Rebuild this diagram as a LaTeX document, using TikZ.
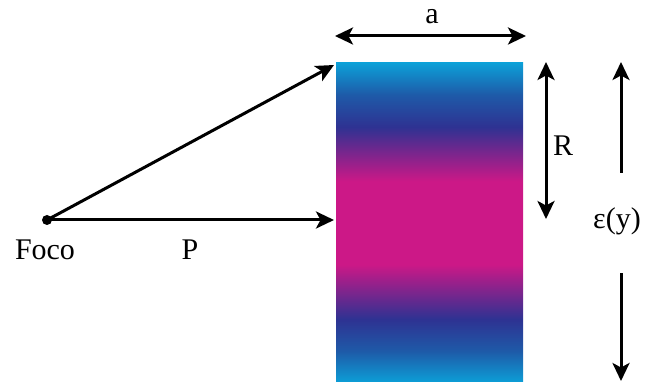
\documentclass[tikz,border=0pt]{standalone}
\usepackage{fontspec}
\setmainfont{Liberation Serif}
\usetikzlibrary{arrows.meta}
\definecolor{cyanC}{RGB}{12,160,216}
\definecolor{midB}{RGB}{30,90,168}
\definecolor{darkB}{RGB}{46,50,146}
\definecolor{magC}{RGB}{204,24,135}
\pgfdeclareverticalshading{lens}{100bp}{color(0bp)=(cyanC); color(25bp)=(cyanC); color(30bp)=(midB); color(35bp)=(darkB); color(43.5bp)=(magC); color(56.5bp)=(magC); color(65bp)=(darkB); color(70bp)=(midB); color(75bp)=(cyanC); color(100bp)=(cyanC)}
\tikzset{
  arr/.style={line width=3pt, -{Stealth[length=18pt,width=17pt,inset=4.5pt]}},
  darr/.style={line width=3pt, {Stealth[length=18pt,width=17pt,inset=4.5pt]}-{Stealth[length=18pt,width=17pt,inset=4.5pt]}},
  lbl/.style={font=\fontsize{30}{32}\selectfont, inner sep=0pt}
}
\begin{document}
\begin{tikzpicture}[x=1pt,y=-1pt]
\useasboundingbox (0,0) rectangle (648,382);
\node[shading=lens, minimum width=187pt, minimum height=320pt, inner sep=0pt, draw=none] (rect) at (429.5,223) {};
\coordinate (focus) at (47,220);
\fill (focus) circle (5pt);
\coordinate (tipA) at (334,65);
\coordinate (tipB) at (334,220);
\draw[arr] (focus) -- (tipA);
\draw[arr] (focus) -- (tipB);
\node[lbl] (foco) at (45,250) {Foco};
\node[lbl] (p) at (190,250) {P};
\coordinate (a1) at (335,36);
\coordinate (a2) at (526,36);
\draw[darr] (a1) -- (a2);
\node[lbl] (a) at (432,17) {a};
\coordinate (r1) at (546,62);
\coordinate (r2) at (546,219);
\draw[darr] (r1) -- (r2);
\node[lbl] (R) at (563,146) {R};
\node[lbl] (eps) at (617,221) {ε(y)};
\coordinate (e1) at (621,173);
\coordinate (e2) at (621,62);
\coordinate (e3) at (621,273);
\coordinate (e4) at (621,381);
\draw[arr] (e1) -- (e2);
\draw[arr] (e3) -- (e4);
\end{tikzpicture}
\end{document}
